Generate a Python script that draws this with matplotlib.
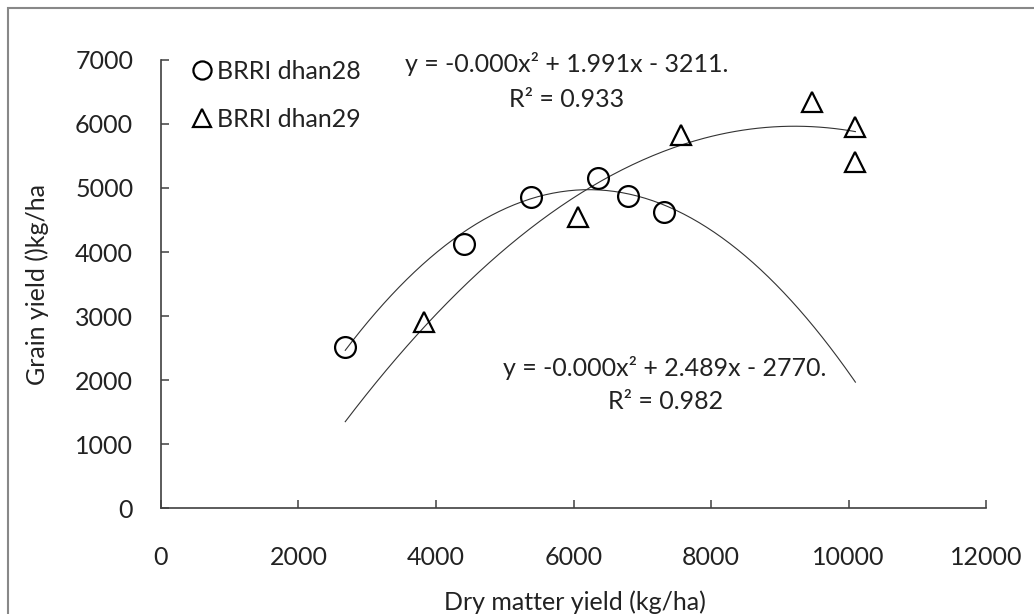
import numpy as np
import matplotlib
matplotlib.use('Agg')
import matplotlib.pyplot as plt
from matplotlib.patches import Rectangle

plt.rcParams['font.family'] = ['Lato', 'DejaVu Sans']

# Dry matter yield vs grain yield (kg/ha) for the two varieties
dm28 = [2680, 4410, 5380, 6350, 6790, 7310]
gy28 = [2510, 4130, 4860, 5150, 4880, 4620]
dm29 = [3820, 6060, 7560, 9470, 10090, 10100]
gy29 = [2910, 4540, 5830, 6350, 5960, 5410]

# polynomial trend lines (a, b, c) and R2
fit28 = [-0.0002, 2.489, -2770]
r2_28 = 0.982
fit29 = [-0.000108, 1.991, -3211]
r2_29 = 0.933

xticks = [0, 2000, 4000, 6000, 8000, 10000, 12000]
yticks = [0, 1000, 2000, 3000, 4000, 5000, 6000, 7000]

fig = plt.figure(figsize=(10.34, 6.14), dpi=100)
ax = fig.add_axes([0.1557, 0.1726, 0.7979, 0.7297])

# trend curves over the full range of dry matter
xs = np.linspace(min(dm28 + dm29), max(dm28 + dm29), 200)
ax.plot(xs, np.polyval(fit28, xs), color='#333333', lw=0.8)
ax.plot(xs, np.polyval(fit29, xs), color='#333333', lw=0.8)

ax.plot(dm28, gy28, 'o', ms=15, mfc='none', mec='black', mew=1.6, label='BRRI dhan28')
ax.plot(dm29, gy29, '^', ms=15, mfc='none', mec='black', mew=1.6, label='BRRI dhan29')

def eqn(f):
    return f"y = {f[0]:.3f}x² + {f[1]:.3f}x - {abs(f[2]):.0f}."

ax.text(0.492, 0.974, eqn(fit29), transform=ax.transAxes, ha='center', va='baseline', fontsize=18, color='#222222')
ax.text(0.492, 0.896, f"R² = {r2_29}", transform=ax.transAxes, ha='center', va='baseline', fontsize=18, color='#222222')
ax.text(0.611, 0.295, eqn(fit28), transform=ax.transAxes, ha='center', va='baseline', fontsize=18, color='#222222')
ax.text(0.611, 0.221, f"R² = {r2_28}", transform=ax.transAxes, ha='center', va='baseline', fontsize=18, color='#222222')

ax.set_xlim(0, 12000)
ax.set_ylim(0, 7000)
ax.set_xticks(xticks)
ax.set_yticks(yticks)
for s in ['top', 'right']:
    ax.spines[s].set_visible(False)
for s in ['left', 'bottom']:
    ax.spines[s].set_color('#404040')
    ax.spines[s].set_linewidth(1.2)
ax.tick_params(direction='in', length=6, width=1.1, color='#404040', labelsize=18, labelcolor='#222222')
ax.tick_params(axis='y', pad=20)
ax.tick_params(axis='x', pad=27)

ax.set_xlabel('Dry matter yield (kg/ha)', fontsize=18, color='#222222')
ax.set_ylabel('Grain yield ()kg/ha', fontsize=18, color='#222222')
ax.xaxis.set_label_coords(0.502, -0.183)
ax.yaxis.set_label_coords(-0.136, 0.5)

leg = ax.legend(loc='upper left', bbox_to_anchor=(0.037, 1.0), frameon=False, fontsize=18,
                handlelength=0.8, handletextpad=0.2, labelspacing=1.0, borderpad=0, borderaxespad=0,
                markerscale=0.87)
for t in leg.get_texts():
    t.set_color('#222222')

# grey outer frame
fig.add_artist(Rectangle((8 / 1034, -0.1), 1.2, 0.987 + 0.1, transform=fig.transFigure,
                         fill=False, edgecolor='#888888', lw=1.5))

fig.savefig('out.png', dpi=100)
